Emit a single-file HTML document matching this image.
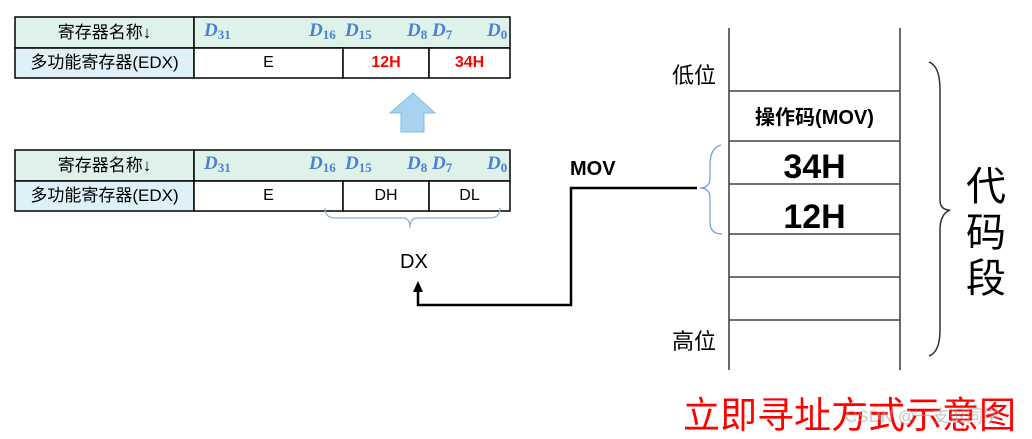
<!DOCTYPE html>
<html><head><meta charset="utf-8"><style>
body{margin:0;width:1032px;height:434px;background:#fff;position:relative;overflow:hidden;font-family:"Liberation Sans","Noto Sans CJK SC",sans-serif}
.d{position:absolute;color:#4a7fd4;font-family:"Liberation Serif",serif;font-style:italic;font-weight:bold;font-size:19px;line-height:22px}
.d sub{font-size:13px;font-style:normal;vertical-align:-3px}
.a{position:absolute;white-space:nowrap}
</style></head><body>
<svg width="1032" height="434" style="position:absolute;left:0;top:0">
<g stroke="#000" stroke-width="1.5" fill="none">
<rect x="15" y="17" width="179" height="31" fill="#dff2e9"/><rect x="194" y="17" width="316" height="31" fill="#dff2e9"/>
<rect x="15" y="48" width="179" height="30" fill="#def0f8"/><rect x="194" y="48" width="149" height="30" fill="#fff"/><rect x="343" y="48" width="86" height="30" fill="#fff"/><rect x="429" y="48" width="81" height="30" fill="#fff"/>
<rect x="15" y="150" width="179" height="31" fill="#dff2e9"/><rect x="194" y="150" width="316" height="31" fill="#dff2e9"/>
<rect x="15" y="181" width="179" height="30" fill="#def0f8"/><rect x="194" y="181" width="149" height="30" fill="#fff"/><rect x="343" y="181" width="86" height="30" fill="#fff"/><rect x="429" y="181" width="81" height="30" fill="#fff"/>
</g>
<polygon points="413,93 435,113 424,113 424,132 401,132 401,113 390,113" fill="#a7d3f0" stroke="#7fbde6"/>
<path d="M325,208 Q325,218 335,218 L403,218 Q410,218 410,228 Q410,218 417,218 L490,218 Q500,218 500,208" fill="none" stroke="#8aaee0" stroke-width="1.2"/>
<polyline points="418,288 418,305 571,305 571,188 697,188" fill="none" stroke="#000" stroke-width="2.5"/>
<polygon points="418,281 413,292 423,292" fill="#000"/>
<g stroke="#444" stroke-width="1.6" fill="none">
<line x1="729" y1="28" x2="729" y2="370"/><line x1="900" y1="28" x2="900" y2="370"/>
<line x1="729" y1="91" x2="900" y2="91"/><line x1="729" y1="141" x2="900" y2="141"/><line x1="729" y1="184" x2="900" y2="184"/><line x1="729" y1="234" x2="900" y2="234"/><line x1="729" y1="277" x2="900" y2="277"/><line x1="729" y1="320" x2="900" y2="320"/>
</g>
<path d="M721,145 Q710,148 710,165 L710,178 Q710,188 700,188 Q710,188 710,198 L710,222 Q710,234 722,234" fill="none" stroke="#6d9ae0" stroke-width="1.2"/>
<path d="M929,62 Q940,66 940,90 L940,200 Q940,210 950,210 Q940,214 940,230 L940,330 Q940,352 929,356" fill="none" stroke="#333" stroke-width="1.5"/>
</svg>
<div class="a" style="left:15px;top:17px;width:179px;line-height:31px;text-align:center;font-size:17px">寄存器名称↓</div>
<div class="a" style="left:15px;top:48px;width:179px;line-height:30px;text-align:center;font-size:17px">多功能寄存器(EDX)</div>
<div class="a" style="left:194px;top:48px;width:149px;line-height:30px;text-align:center;font-size:16px">E</div>
<div class="a" style="left:343px;top:48px;width:86px;line-height:30px;text-align:center;font-size:16px;color:#f00;font-weight:bold">12H</div>
<div class="a" style="left:429px;top:48px;width:81px;line-height:30px;text-align:center;font-size:16px;color:#f00;font-weight:bold">34H</div>
<div class="a" style="left:15px;top:150px;width:179px;line-height:31px;text-align:center;font-size:17px">寄存器名称↓</div>
<div class="a" style="left:15px;top:181px;width:179px;line-height:30px;text-align:center;font-size:17px">多功能寄存器(EDX)</div>
<div class="a" style="left:194px;top:181px;width:149px;line-height:30px;text-align:center;font-size:16px">E</div>
<div class="a" style="left:343px;top:181px;width:86px;line-height:30px;text-align:center;font-size:16px">DH</div>
<div class="a" style="left:429px;top:181px;width:81px;line-height:30px;text-align:center;font-size:16px">DL</div>
<div class="d" style="left:204px;top:20px">D<sub>31</sub></div><div class="d" style="left:309px;top:20px">D<sub>16</sub></div><div class="d" style="left:345px;top:20px">D<sub>15</sub></div><div class="d" style="left:407px;top:20px">D<sub>8</sub></div><div class="d" style="left:432px;top:20px">D<sub>7</sub></div><div class="d" style="left:487px;top:20px">D<sub>0</sub></div>
<div class="d" style="left:204px;top:153px">D<sub>31</sub></div><div class="d" style="left:309px;top:153px">D<sub>16</sub></div><div class="d" style="left:345px;top:153px">D<sub>15</sub></div><div class="d" style="left:407px;top:153px">D<sub>8</sub></div><div class="d" style="left:432px;top:153px">D<sub>7</sub></div><div class="d" style="left:487px;top:153px">D<sub>0</sub></div>
<div class="a" style="left:400px;top:251px;font-size:20px">DX</div>
<div class="a" style="left:570px;top:158px;font-size:20px;font-weight:bold">MOV</div>
<div class="a" style="left:672px;top:58px;font-size:22px">低位</div>
<div class="a" style="left:672px;top:324px;font-size:22px">高位</div>
<div class="a" style="left:729px;top:101px;width:171px;text-align:center;font-size:20px;font-weight:bold">操作码(MOV)</div>
<div class="a" style="left:729px;top:148px;width:171px;text-align:center;font-size:34px;font-weight:bold">34H</div>
<div class="a" style="left:729px;top:198px;width:171px;text-align:center;font-size:34px;font-weight:bold">12H</div>
<div class="a" style="left:966px;top:164px;font-size:40px;line-height:46px;width:44px">代<br>码<br>段</div>
<div class="a" style="left:683px;top:385px;font-size:37px;color:#f00">立即寻址方式示意图</div>
<div class="a" style="left:845px;top:402px;font-size:17px;color:rgba(160,160,160,0.6)">CSDN @一支退同学</div>
</body></html>
